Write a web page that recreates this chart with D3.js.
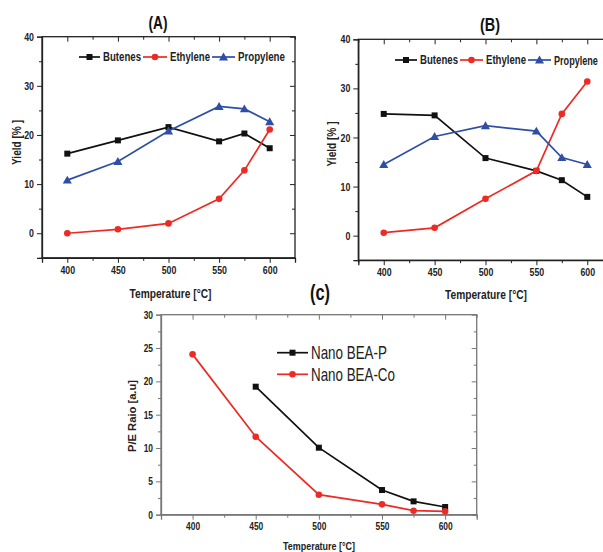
<!DOCTYPE html>
<html><head><meta charset="utf-8">
<script src="https://cdn.jsdelivr.net/npm/d3@7"></script>
<style>
body{margin:0;background:#fff;}
svg{display:block;}
text{font-family:"Liberation Sans",Arial,sans-serif;}
</style></head>
<body>
<svg id="chart" width="603" height="552"></svg>
<script>
// ---- data ----
const temps = [400, 450, 500, 550, 575, 600];
const xTicks = [400, 450, 500, 550, 600];
const yieldTicks = [0, 10, 20, 30, 40];
const ratioTicks = [0, 5, 10, 15, 20, 25, 30];

const aButenes   = [16.2, 18.9, 21.6, 18.7, 20.3, 17.3];
const aEthylene  = [0.0, 0.8, 2.0, 7.0, 12.8, 21.1];
const aPropylene = [10.8, 14.6, 20.8, 25.8, 25.3, 22.7];

const bButenes   = [24.8, 24.5, 15.8, 13.2, 11.3, 7.9];
const bEthylene  = [0.6, 1.6, 7.5, 13.2, 24.8, 31.4];
const bPropylene = [14.5, 20.2, 22.4, 21.3, 15.9, 14.5];

const cTempsP = [450, 500, 550, 575, 600];
const cBeaP   = [19.2, 10.05, 3.7, 2.0, 1.15];
const cTempsCo = [400, 450, 500, 550, 575, 600];
const cBeaCo  = [24.05, 11.7, 3.0, 1.55, 0.6, 0.5];

const seriesNames = ["Butenes", "Ethylene", "Propylene"];
const cNames = ["Nano BEA-P", "Nano BEA-Co"];

const BLACK = "#111", RED = "#ee2a24", BLUE = "#2f4fa6";
const COND = 0.8;

const svg = d3.select("#chart");

// condense a text: either to a given width, or by the COND factor
function fit(sel, width) {
  sel.each(function() {
    const w = this.getComputedTextLength();
    const target = width || w * COND;
    d3.select(this).attr("textLength", target).attr("lengthAdjust", "spacingAndGlyphs");
  });
}
// condense with a horizontal scale transform (left-anchored text)
function squeeze(sel, x, y, width) {
  sel.each(function() {
    const w = this.getComputedTextLength();
    d3.select(this).attr("transform", `translate(${x},${y}) scale(${width / w},1)`);
  });
}

function marker(g, shape, x, y, color) {
  if (shape === "square") {
    g.append("rect").attr("x", x - 3).attr("y", y - 3).attr("width", 6).attr("height", 6).attr("fill", color);
  } else if (shape === "circle") {
    g.append("circle").attr("cx", x).attr("cy", y).attr("r", 3.3).attr("fill", color);
  } else {
    g.append("path").attr("d", d3.symbol(d3.symbolTriangle, 36)()).attr("transform", `translate(${x},${y + 0.8})`).attr("fill", color);
  }
}

function panel(cfg) {
  const x = d3.scaleLinear().domain(cfg.xDomain).range(cfg.xRange);
  const y = d3.scaleLinear().domain(cfg.yDomain).range(cfg.yRange);
  const g = svg.append("g");
  const boxColor = cfg.boxColor;
  const [x0, x1] = cfg.xRange, [y0, y1] = cfg.yRange;
  const minorX = d3.range(cfg.xDomain[0], cfg.xDomain[1] + 1, 25).filter(v => !xTicks.includes(v));
  const minorY = d3.range(cfg.yDomain[0], cfg.yDomain[1] + 0.01, cfg.yStep / 2).filter(v => !cfg.yTicks.includes(v));

  // box
  g.append("rect").attr("x", x0).attr("y", y1).attr("width", x1 - x0).attr("height", y0 - y1)
    .attr("fill", "none").attr("stroke", boxColor).attr("stroke-width", 1.3);

  // bottom axis
  const bx = g.append("g").attr("transform", `translate(0,${y0})`)
    .call(d3.axisBottom(x).tickValues(xTicks).tickSize(5).tickPadding(3).tickFormat(d3.format("d")));
  bx.select(".domain").attr("stroke", boxColor).attr("stroke-width", 1.3);
  bx.selectAll(".tick line").attr("stroke", boxColor);
  bx.selectAll("text").attr("font-size", cfg.tickSize).attr("font-weight", "bold").attr("fill", "#222").call(fit);
  const bm = g.append("g").attr("transform", `translate(0,${y0})`)
    .call(d3.axisBottom(x).tickValues(minorX).tickSize(3).tickFormat(""));
  bm.select(".domain").remove(); bm.selectAll(".tick line").attr("stroke", boxColor);

  // left axis
  const ly = g.append("g").attr("transform", `translate(${x0},0)`)
    .call(d3.axisLeft(y).tickValues(cfg.yTicks).tickSize(5).tickPadding(3).tickFormat(d3.format("d")));
  ly.select(".domain").attr("stroke", boxColor).attr("stroke-width", 1.3);
  ly.selectAll(".tick line").attr("stroke", boxColor);
  ly.selectAll("text").attr("font-size", cfg.tickSize).attr("font-weight", "bold").attr("fill", "#222").call(fit);
  const lm = g.append("g").attr("transform", `translate(${x0},0)`)
    .call(d3.axisLeft(y).tickValues(minorY).tickSize(3).tickFormat(""));
  lm.select(".domain").remove(); lm.selectAll(".tick line").attr("stroke", boxColor);

  // top axis (inward)
  const tx = g.append("g").attr("transform", `translate(0,${y1})`)
    .call(d3.axisTop(x).tickValues(xTicks).tickSize(-5).tickFormat(""));
  tx.select(".domain").remove(); tx.selectAll(".tick line").attr("stroke", boxColor);
  const tm = g.append("g").attr("transform", `translate(0,${y1})`)
    .call(d3.axisTop(x).tickValues(minorX).tickSize(-3).tickFormat(""));
  tm.select(".domain").remove(); tm.selectAll(".tick line").attr("stroke", boxColor);

  // right axis (inward)
  const rx = g.append("g").attr("transform", `translate(${x1},0)`)
    .call(d3.axisRight(y).tickValues(cfg.yTicks).tickSize(-5).tickFormat(""));
  rx.select(".domain").remove(); rx.selectAll(".tick line").attr("stroke", boxColor);
  const rm = g.append("g").attr("transform", `translate(${x1},0)`)
    .call(d3.axisRight(y).tickValues(minorY).tickSize(-3).tickFormat(""));
  rm.select(".domain").remove(); rm.selectAll(".tick line").attr("stroke", boxColor);

  // series
  const line = d3.line().x(d => x(d[0])).y(d => y(d[1]));
  cfg.series.forEach(s => {
    const pts = s.xs.map((t, i) => [t, s.values[i]]);
    g.append("path").datum(pts).attr("d", line).attr("fill", "none")
      .attr("stroke", s.color).attr("stroke-width", 1.7);
    pts.forEach(p => marker(g, s.shape, x(p[0]), y(p[1]), s.color));
  });

  // title
  g.append("text").attr("x", cfg.title.x).attr("y", cfg.title.y).attr("text-anchor", "middle")
    .attr("dominant-baseline", "central").attr("font-size", cfg.title.size).attr("font-weight", "bold")
    .attr("fill", "#111").text(cfg.title.text).call(fit, cfg.title.w);
  // axis labels
  g.append("text").attr("x", cfg.xLabel.x).attr("y", cfg.xLabel.y).attr("text-anchor", "middle")
    .attr("dominant-baseline", "central").attr("font-size", cfg.xLabel.size).attr("font-weight", "bold")
    .attr("fill", "#222").text(cfg.xLabel.text).call(fit, cfg.xLabel.w);
  g.append("text").attr("transform", `translate(${cfg.yLabel.x},${cfg.yLabel.y}) rotate(-90)`)
    .attr("text-anchor", "middle").attr("dominant-baseline", "central").attr("font-size", cfg.yLabel.size)
    .attr("font-weight", "bold").attr("fill", "#222").text(cfg.yLabel.text).call(fit, cfg.yLabel.w);

  // legend
  cfg.legend.forEach(l => {
    g.append("line").attr("x1", l.x1).attr("x2", l.x2).attr("y1", l.y).attr("y2", l.y)
      .attr("stroke", l.color).attr("stroke-width", 1.7);
    marker(g, l.shape, (l.x1 + l.x2) / 2, l.y, l.color);
    g.append("text").attr("x", 0).attr("y", 0).attr("dominant-baseline", "central")
      .attr("font-size", l.size).attr("font-weight", l.weight).attr("fill", "#222").text(l.name)
      .call(squeeze, l.tx, l.y, l.w);
  });
}

panel({
  xDomain: [375, 625], xRange: [42, 295],
  yDomain: [-5, 40], yRange: [257.8, 36.7], yTicks: yieldTicks, yStep: 10,
  boxColor: "#222", tickSize: 11,
  series: [
    {xs: temps, values: aButenes, color: BLACK, shape: "square"},
    {xs: temps, values: aEthylene, color: RED, shape: "circle"},
    {xs: temps, values: aPropylene, color: BLUE, shape: "triangle"}
  ],
  title: {text: "(A)", x: 158, y: 23, size: 18, w: 19},
  xLabel: {text: "Temperature [°C]", x: 170.5, y: 294, size: 12, w: 82},
  yLabel: {text: "Yield [% ]", x: 17, y: 142.5, size: 12.5, w: 45},
  legend: [
    {name: seriesNames[0], x1: 79, x2: 100, tx: 103, y: 57, color: BLACK, shape: "square", size: 12, weight: "bold", w: 38},
    {name: seriesNames[1], x1: 143, x2: 167, tx: 170, y: 57, color: RED, shape: "circle", size: 12, weight: "bold", w: 40},
    {name: seriesNames[2], x1: 212, x2: 235, tx: 238, y: 57, color: BLUE, shape: "triangle", size: 12, weight: "bold", w: 47}
  ]
});

panel({
  xDomain: [375, 625], xRange: [358.3, 612.7],
  yDomain: [-5, 40], yRange: [260.2, 39.3], yTicks: yieldTicks, yStep: 10,
  boxColor: "#222", tickSize: 11,
  series: [
    {xs: temps, values: bButenes, color: BLACK, shape: "square"},
    {xs: temps, values: bEthylene, color: RED, shape: "circle"},
    {xs: temps, values: bPropylene, color: BLUE, shape: "triangle"}
  ],
  title: {text: "(B)", x: 490, y: 25, size: 18, w: 20},
  xLabel: {text: "Temperature [°C]", x: 486, y: 295, size: 12, w: 82},
  yLabel: {text: "Yield [% ]", x: 332, y: 144, size: 12.5, w: 45},
  legend: [
    {name: seriesNames[0], x1: 395, x2: 417, tx: 420, y: 60, color: BLACK, shape: "square", size: 12, weight: "bold", w: 38},
    {name: seriesNames[1], x1: 460, x2: 483, tx: 486, y: 60, color: RED, shape: "circle", size: 12, weight: "bold", w: 40},
    {name: seriesNames[2], x1: 528, x2: 551, tx: 554, y: 60, color: BLUE, shape: "triangle", size: 12, weight: "bold", w: 44}
  ]
});

panel({
  xDomain: [375, 625], xRange: [161, 476.7],
  yDomain: [0, 30], yRange: [514.7, 314.7], yTicks: ratioTicks, yStep: 5,
  boxColor: "#777", tickSize: 10.5,
  series: [
    {xs: cTempsP, values: cBeaP, color: BLACK, shape: "square"},
    {xs: cTempsCo, values: cBeaCo, color: RED, shape: "circle"}
  ],
  title: {text: "(c)", x: 320, y: 292, size: 22, w: 20},
  xLabel: {text: "Temperature [°C]", x: 319, y: 546, size: 11, w: 72},
  yLabel: {text: "P/E Raio [a.u]", x: 132, y: 416, size: 11, w: 72},
  legend: [
    {name: cNames[0], x1: 277, x2: 308, tx: 311, y: 352.7, color: BLACK, shape: "square", size: 18, weight: "normal", w: 76},
    {name: cNames[1], x1: 277, x2: 308, tx: 311, y: 374.3, color: RED, shape: "circle", size: 18, weight: "normal", w: 84}
  ]
});
</script>
</body></html>
